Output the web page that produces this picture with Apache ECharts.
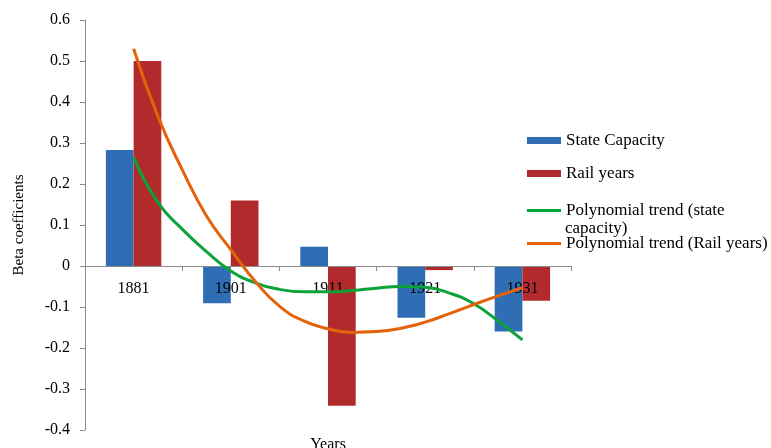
<!DOCTYPE html>
<html>
<head>
<meta charset="utf-8">
<script src="https://cdn.jsdelivr.net/npm/echarts@6/dist/echarts.min.js"></script>
<style>
html,body{margin:0;padding:0;background:#fff;}
#chart{width:771px;height:448px;}
</style>
</head>
<body>
<div id="chart"></div>
<script>
// ---- data ----
var categories = ['1881', '1901', '1911', '1921', '1931'];
var stateCapacity = [0.283, -0.091, 0.047, -0.126, -0.16];
var railYears = [0.5, 0.16, -0.341, -0.01, -0.085];
// trend curves: x = category position (1 = 1881 ... 5 = 1931)
var trendStateX = [1, 1.25, 1.5, 1.75, 2, 2.25, 2.5, 2.75, 3, 3.25, 3.5, 3.75, 4, 4.25, 4.5, 4.75, 5];
var trendStateY = [0.265, 0.155, 0.09, 0.035, -0.012, -0.041, -0.057, -0.063, -0.063, -0.06, -0.054, -0.05, -0.052, -0.066, -0.092, -0.134, -0.18];
var trendRailX = [1, 1.25, 1.5, 1.75, 2, 2.25, 2.5, 2.75, 3, 3.25, 3.5, 3.75, 4, 4.25, 4.5, 4.75, 5];
var trendRailY = [0.53, 0.365, 0.235, 0.122, 0.04, -0.037, -0.098, -0.134, -0.153, -0.162, -0.16, -0.152, -0.137, -0.116, -0.094, -0.073, -0.053];
var yTicks = { min: -0.4, max: 0.6, interval: 0.1 };

function pairs(xs, ys) { return xs.map(function (x, i) { return [x, ys[i]]; }); }

var FONT = 'Liberation Serif';
var txt = { fontFamily: FONT, fontSize: 16, color: '#000' };
var legTxt = { fontFamily: FONT, fontSize: 17, color: '#000' };
var axisGray = '#8c8c8c';
var BLUE = '#2F6EB4', RED = '#B22B2C', GREEN = '#0BA23A', ORANGE = '#E3620A';

var names = ['State Capacity', 'Rail years', 'Polynomial trend (state capacity)', 'Polynomial trend (Rail years)'];

function leg(name, top, h, extra) {
  return Object.assign({
    data: [{ name: name, icon: 'rect' }], orient: 'vertical', left: 527, top: top, padding: 0,
    itemWidth: 34, itemHeight: h, itemGap: 0, textStyle: legTxt,
    itemStyle: { borderWidth: 0 }, lineStyle: { width: 0 }
  }, extra || {});
}

var GRID_TOP = 20, GRID_BOTTOM = 18, H = 448;
var zeroOffset = -(H - GRID_BOTTOM - GRID_TOP) * (0 - yTicks.min) / (yTicks.max - yTicks.min);

var chart = echarts.init(document.getElementById('chart'));
chart.setOption({
  animation: false,
  backgroundColor: '#fff',
  grid: { left: 85, right: 200, top: GRID_TOP, bottom: GRID_BOTTOM, containLabel: false, outerBoundsMode: 'none' },
  legend: [
    leg(names[0], 132, 7),
    leg(names[1], 165, 7),
    leg(names[2], 202, 3, { formatter: function () { return 'Polynomial trend (state'; } }),
    leg(names[3], 235, 3)
  ],
  graphic: [
    { type: 'text', left: 565, top: 220, style: { text: 'capacity)', font: '17px "Liberation Serif"', fill: '#000' } }
  ],
  xAxis: [
    {
      type: 'category',
      data: categories,
      boundaryGap: true,
      position: 'bottom',
      offset: zeroOffset,
      z: 4,
      name: 'Years',
      nameLocation: 'middle',
      nameGap: 171,
      nameTextStyle: txt,
      axisLine: { onZero: false, lineStyle: { color: axisGray, width: 1 } },
      axisTick: { show: true, length: 5, lineStyle: { color: axisGray } },
      axisLabel: Object.assign({}, txt, { margin: 15 }),
      splitLine: { show: false }
    },
    {
      type: 'value', min: 0.5, max: 5.5, show: false
    }
  ],
  yAxis: {
    type: 'value',
    min: yTicks.min, max: yTicks.max, interval: yTicks.interval,
    name: 'Beta coefficients',
    nameLocation: 'middle',
    nameGap: 58,
    nameTextStyle: Object.assign({}, txt, { fontSize: 15 }),
    axisLine: { show: true, lineStyle: { color: axisGray, width: 1 } },
    axisTick: { show: true, length: 5, lineStyle: { color: axisGray } },
    axisLabel: Object.assign({}, txt, { margin: 15, formatter: function (v) { return String(Math.round(v * 10) / 10); } }),
    splitLine: { show: false }
  },
  series: [
    {
      name: names[0], type: 'bar', data: stateCapacity,
      barGap: '0%', barCategoryGap: '43%',
      itemStyle: { color: BLUE }
    },
    {
      name: names[1], type: 'bar', data: railYears,
      itemStyle: { color: RED }
    },
    {
      name: names[2], type: 'line', xAxisIndex: 1, data: pairs(trendStateX, trendStateY),
      smooth: 0.5, symbol: 'none', z: 5,
      lineStyle: { color: GREEN, width: 3 }, itemStyle: { color: GREEN }
    },
    {
      name: names[3], type: 'line', xAxisIndex: 1, data: pairs(trendRailX, trendRailY),
      smooth: 0.5, symbol: 'none', z: 6,
      lineStyle: { color: ORANGE, width: 3 }, itemStyle: { color: ORANGE }
    }
  ]
});
</script>
</body>
</html>
